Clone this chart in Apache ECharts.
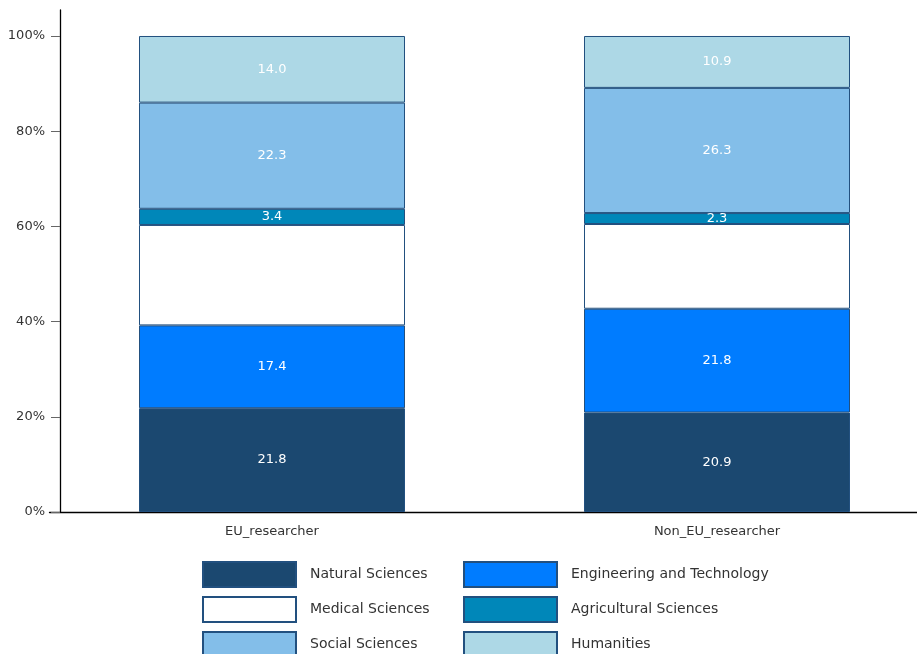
<!DOCTYPE html>
<html><head><meta charset="utf-8">
<script src="https://cdn.jsdelivr.net/npm/echarts@6/dist/echarts.min.js"></script>
<style>html,body{margin:0;padding:0;background:#fff}#c{width:917px;height:654px}</style>
</head><body><div id="c"></div>
<script>
const categories = ['EU_researcher', 'Non_EU_researcher'];
const naturalSciences = [21.8, 20.9];
const engineeringTechnology = [17.4, 21.8];
const medicalSciences = [21.1, 17.8];
const agriculturalSciences = [3.4, 2.3];
const socialSciences = [22.3, 26.3];
const humanities = [14.0, 10.9];
const yTicks = [0, 20, 40, 60, 80, 100];

const seriesDefs = [
  {name: 'Natural Sciences', data: naturalSciences, color: '#1b4870', label: true},
  {name: 'Engineering and Technology', data: engineeringTechnology, color: '#007cff', label: true},
  {name: 'Medical Sciences', data: medicalSciences, color: '#ffffff', label: false},
  {name: 'Agricultural Sciences', data: agriculturalSciences, color: '#0087b9', label: true},
  {name: 'Social Sciences', data: socialSciences, color: '#83bee9', label: true},
  {name: 'Humanities', data: humanities, color: '#add8e6', label: true}
];
const FONT = 'DejaVu Sans';
const chart = echarts.init(document.getElementById('c'), null, {renderer: 'canvas'});
chart.setOption({
  animation: false,
  textStyle: {fontFamily: FONT},
  grid: {left: 49.5, top: 10, width: 890, height: 502, outerBoundsMode: 'none', containLabel: false},
  xAxis: {
    type: 'category', data: categories,
    axisLine: {show: true, lineStyle: {color: '#000', width: 1.3}},
    axisTick: {show: false},
    axisLabel: {margin: 13, color: '#333', fontSize: 13, fontFamily: FONT}
  },
  yAxis: {
    type: 'value', min: 0, max: 105.46, offset: -10.5,
    splitLine: {show: false},
    axisLine: {show: true, lineStyle: {color: '#000', width: 1.3}},
    axisTick: {show: true, customValues: yTicks, length: 9, lineStyle: {color: '#666'}},
    axisLabel: {customValues: yTicks, margin: 15, color: '#333', fontSize: 13, fontFamily: FONT, formatter: v => v + '%'}
  },
  legend: [
    {
      orient: 'vertical', left: 202, top: 561, height: 120, itemWidth: 93, itemHeight: 25, itemGap: 8, padding: 0,
      icon: 'rect',
      data: [seriesDefs[0].name, seriesDefs[2].name, seriesDefs[4].name],
      textStyle: {fontSize: 14, color: '#333', fontFamily: FONT, padding: [0, 0, 0, 9]}
    },
    {
      orient: 'vertical', left: 463, top: 561, height: 120, itemWidth: 93, itemHeight: 25, itemGap: 8, padding: 0,
      icon: 'rect',
      data: [seriesDefs[1].name, seriesDefs[3].name, seriesDefs[5].name],
      textStyle: {fontSize: 14, color: '#333', fontFamily: FONT, padding: [0, 0, 0, 9]}
    }
  ],
  series: seriesDefs.map(s => ({
    name: s.name, type: 'bar', stack: 'total', barWidth: 266,
    data: s.data,
    itemStyle: {color: s.color, borderColor: '#22507f', borderWidth: 1},
    label: {show: s.label, position: 'inside', color: '#fff', fontSize: 13, fontFamily: FONT,
      formatter: p => p.value.toFixed(1)}
  }))
});
</script></body></html>
